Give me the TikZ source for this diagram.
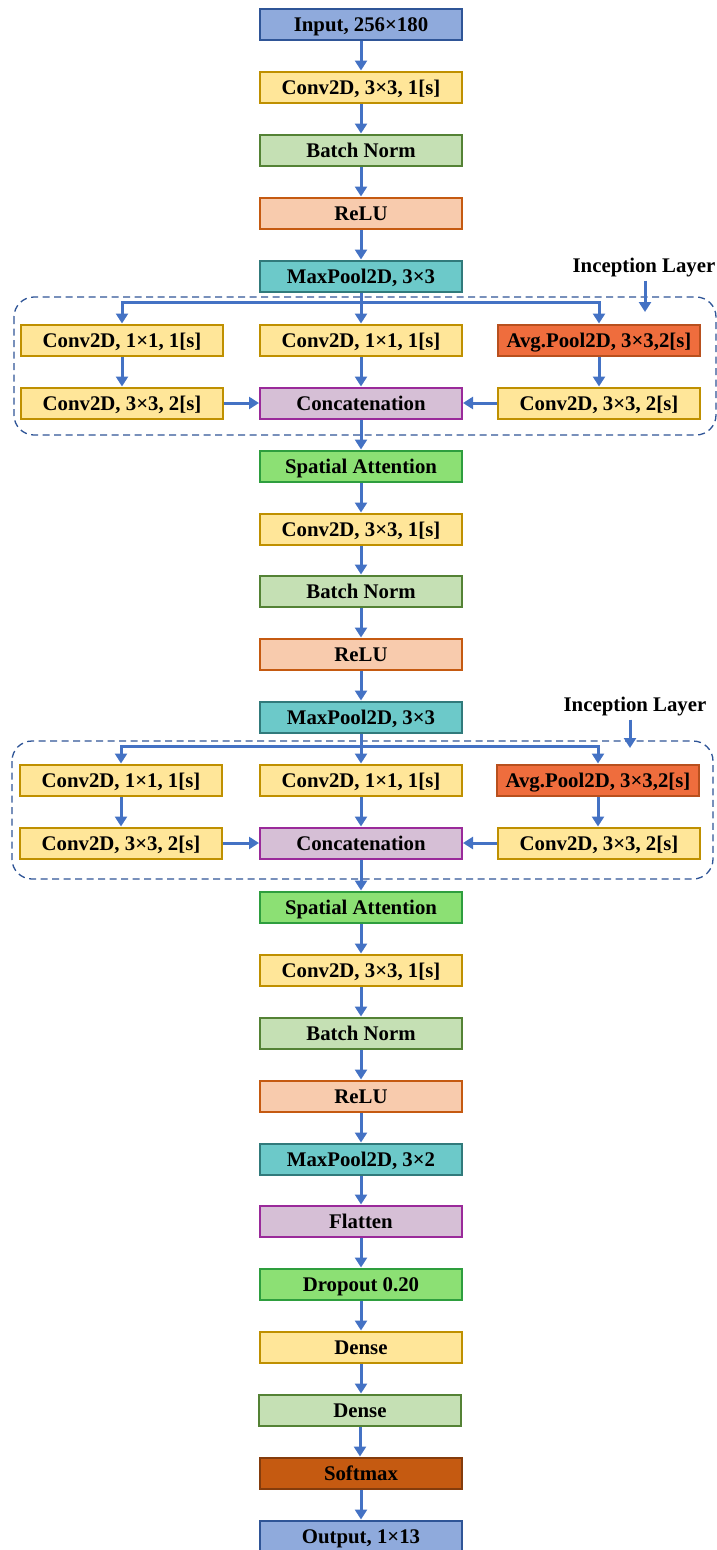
\documentclass[tikz,border=0pt]{standalone}
\usepackage{fontspec}
\setmainfont{Liberation Serif}
\usetikzlibrary{arrows.meta}
\definecolor{inF}{HTML}{8FAADC}\definecolor{inD}{HTML}{2F5597}
\definecolor{convF}{HTML}{FFE699}\definecolor{convD}{HTML}{BF9000}
\definecolor{bnF}{HTML}{C5E0B4}\definecolor{bnD}{HTML}{548235}
\definecolor{reluF}{HTML}{F8CBAD}\definecolor{reluD}{HTML}{C55A11}
\definecolor{mpF}{HTML}{6CC9C9}\definecolor{mpD}{HTML}{317A7B}
\definecolor{catF}{HTML}{D6BFD6}\definecolor{catD}{HTML}{9A2A9A}
\definecolor{saF}{HTML}{8CE074}\definecolor{saD}{HTML}{2E9E3E}
\definecolor{avgF}{HTML}{EF6D3D}\definecolor{avgD}{HTML}{B8501E}
\definecolor{smF}{HTML}{C55A11}\definecolor{smD}{HTML}{843C0C}
\definecolor{arrC}{HTML}{4472C4}
\definecolor{dashC}{HTML}{2F5597}
\newcommand{\labfont}{\fontsize{20.8}{24}\selectfont\bfseries}
\tikzset{
  box/.style={draw, line width=2pt, minimum width=202pt, minimum height=31pt, inner sep=0pt,
              text height=15pt, text depth=0pt, font=\labfont, text=black},
  inbox/.style={box, fill=inF, draw=inD},
  convbox/.style={box, fill=convF, draw=convD},
  bnbox/.style={box, fill=bnF, draw=bnD},
  relubox/.style={box, fill=reluF, draw=reluD},
  mpbox/.style={box, fill=mpF, draw=mpD},
  catbox/.style={box, fill=catF, draw=catD},
  sabox/.style={box, fill=saF, draw=saD},
  avgbox/.style={box, fill=avgF, draw=avgD},
  smbox/.style={box, fill=smF, draw=smD},
  link/.style={draw=arrC, line width=3pt},
  arr/.style={link, -{Triangle[length=10pt,width=12pt]}},
  incep/.style={draw=dashC, line width=1.3pt, dash pattern=on 7pt off 4.5pt, rounded corners=20pt},
  lab/.style={font=\labfont, inner sep=0pt, text=black}
}
\begin{document}
\begin{tikzpicture}[x=1pt,y=-1pt]
\useasboundingbox (0,0) rectangle (717,1550);
% main column, top part
\node[inbox]   (in)  at (361,24)  {Input, 256×180};
\node[convbox] (c1)  at (361,87)  {Conv2D, 3×3, 1[s]};
\node[bnbox]   (bn1) at (361,150) {Batch Norm};
\node[relubox] (r1)  at (361,213) {ReLU};
\node[mpbox]   (mp1) at (361,276) {MaxPool2D, 3×3};
% inception layer 1
\draw[incep] (14,297) rectangle (716,435);
\node[lab] (lab1) at (644,268) {Inception Layer};
\coordinate (lab1t) at (645,312);
\node[convbox] (a1l) at (122,340) {Conv2D, 1×1, 1[s]};
\node[convbox] (a1m) at (361,340) {Conv2D, 1×1, 1[s]};
\node[avgbox]  (a1r) at (599,340) {Avg.Pool2D, 3×3,2[s]};
\node[convbox] (b1l) at (122,403) {Conv2D, 3×3, 2[s]};
\node[catbox]  (b1m) at (361,403) {Concatenation};
\node[convbox] (b1r) at (599,403) {Conv2D, 3×3, 2[s]};
\coordinate (s1) at (361,302);
% middle
\node[sabox]   (sa1) at (361,466) {Spatial Attention};
\node[convbox] (c2)  at (361,529) {Conv2D, 3×3, 1[s]};
\node[bnbox]   (bn2) at (361,591) {Batch Norm};
\node[relubox] (r2)  at (361,654) {ReLU};
\node[mpbox]   (mp2) at (361,717) {MaxPool2D, 3×3};
% inception layer 2
\draw[incep] (12,741) rectangle (713,879);
\node[lab] (lab2) at (635,707) {Inception Layer};
\coordinate (lab2t) at (630,748);
\node[convbox] (a2l) at (121,780) {Conv2D, 1×1, 1[s]};
\node[convbox] (a2m) at (361,780) {Conv2D, 1×1, 1[s]};
\node[avgbox]  (a2r) at (598,780) {Avg.Pool2D, 3×3,2[s]};
\node[convbox] (b2l) at (121,843) {Conv2D, 3×3, 2[s]};
\node[catbox]  (b2m) at (361,843) {Concatenation};
\node[convbox] (b2r) at (599,843) {Conv2D, 3×3, 2[s]};
\coordinate (s2) at (361,746);
% bottom
\node[sabox]   (sa2) at (361,907)  {Spatial Attention};
\node[convbox] (c3)  at (361,970)  {Conv2D, 3×3, 1[s]};
\node[bnbox]   (bn3) at (361,1033) {Batch Norm};
\node[relubox] (r3)  at (361,1096) {ReLU};
\node[mpbox]   (mp3) at (361,1159) {MaxPool2D, 3×2};
\node[catbox]  (fl)  at (361,1221) {Flatten};
\node[sabox]   (dr)  at (361,1284) {Dropout 0.20};
\node[convbox] (d1)  at (361,1347) {Dense};
\node[bnbox]   (d2)  at (360,1410) {Dense};
\node[smbox]   (sm)  at (361,1473) {Softmax};
\node[inbox]   (out) at (361,1536) {Output, 1×13};
% connectors
\foreach \a/\b in {in/c1,c1/bn1,bn1/r1,r1/mp1,
                   a1l/b1l,a1m/b1m,a1r/b1r,b1m/sa1,
                   sa1/c2,c2/bn2,bn2/r2,r2/mp2,
                   a2l/b2l,a2m/b2m,a2r/b2r,b2m/sa2,
                   sa2/c3,c3/bn3,bn3/r3,r3/mp3,mp3/fl,fl/dr,dr/d1,d1/d2,d2/sm,sm/out}
  \draw[arr] (\a.south) -- (\a.south |- \b.north);
\draw[link] (mp1.south) -- (s1);
\draw[arr] (s1) -- (a1m.north);
\draw[arr] (s1) -| (a1l.north);
\draw[arr] (s1) -| (a1r.north);
\draw[arr] (b1l.east) -- (b1m.west);
\draw[arr] (b1r.west) -- (b1m.east);
\draw[arr, shorten <=3pt] (lab1.south -| lab1t) -- (lab1t);
\draw[link] (mp2.south) -- (s2);
\draw[arr] (s2) -- (a2m.north);
\draw[arr] (s2) -| (a2l.north);
\draw[arr] (s2) -| (a2r.north);
\draw[arr] (b2l.east) -- (b2m.west);
\draw[arr] (b2r.west) -- (b2m.east);
\draw[arr, shorten <=3pt] (lab2.south -| lab2t) -- (lab2t);
\end{tikzpicture}
\end{document}
